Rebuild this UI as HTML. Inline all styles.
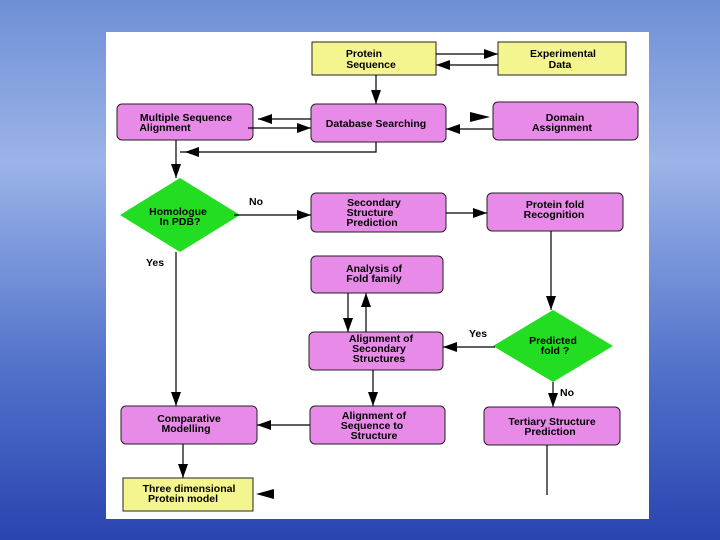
<!DOCTYPE html>
<html><head><style>
body{margin:0;width:720px;height:540px;overflow:hidden;background:linear-gradient(180deg,#6f8fd6 0%,#9bb4e8 30%,#4f6fc9 70%,#2a44b0 100%);}
svg{position:absolute;left:0;top:0}
text{font-family:"Liberation Sans",sans-serif;font-size:10.5px;font-weight:bold;fill:#000;text-anchor:middle}
</style></head><body>
<svg width="720" height="540">
<defs>
<marker id="b" viewBox="0 0 14 10" markerWidth="14" markerHeight="10" refX="14" refY="5" orient="auto" markerUnits="userSpaceOnUse"><path d="M0,0L14,5L0,10z" fill="#000"/></marker></defs>
<rect x="106" y="32" width="543" height="487" fill="#fff"/>
<g stroke="#222" stroke-width="1">
<rect x="312" y="42" width="124" height="33" fill="#f5f590"/>
<rect x="498" y="42" width="128" height="33" fill="#f5f590"/>
<rect x="117" y="104" width="136" height="36" rx="5" fill="#e88ae8"/>
<rect x="311" y="104" width="135" height="38" rx="5" fill="#e88ae8"/>
<rect x="493" y="102" width="145" height="38" rx="5" fill="#e88ae8"/>
<path d="M180,178L240,215L180,252L120,215z" fill="#22dd22" stroke="none"/>
<rect x="311" y="193" width="135" height="39" rx="5" fill="#e88ae8"/>
<rect x="487" y="193" width="136" height="38" rx="5" fill="#e88ae8"/>
<rect x="311" y="256" width="132" height="37" rx="5" fill="#e88ae8"/>
<rect x="309" y="332" width="134" height="38" rx="5" fill="#e88ae8"/>
<path d="M553,310L613,346L553,382L493,346z" fill="#22dd22" stroke="none"/>
<rect x="121" y="406" width="136" height="38" rx="5" fill="#e88ae8"/>
<rect x="310" y="406" width="135" height="38" rx="5" fill="#e88ae8"/>
<rect x="484" y="407" width="136" height="38" rx="5" fill="#e88ae8"/>
<rect x="123" y="478" width="130" height="33" fill="#f5f590"/>
</g>
<g stroke="#000" stroke-width="1.2" fill="none">
<line x1="436" y1="54" x2="498" y2="54" marker-end="url(#b)"/>
<line x1="498" y1="65" x2="436" y2="65" marker-end="url(#b)"/>
<line x1="376" y1="75" x2="376" y2="104" marker-end="url(#b)"/>
<line x1="311" y1="119" x2="258" y2="119" marker-end="url(#b)"/>
<line x1="248" y1="128" x2="311" y2="128" marker-end="url(#b)"/>
<line x1="493" y1="129" x2="446" y2="129" marker-end="url(#b)"/>
<polyline points="376,142 376,152 180,152"/>
<line x1="200" y1="152" x2="185" y2="152" marker-end="url(#b)"/>
<line x1="176" y1="140" x2="176" y2="178" marker-end="url(#b)"/>
<line x1="234" y1="215" x2="311" y2="215" marker-end="url(#b)"/>
<line x1="446" y1="213" x2="487" y2="213" marker-end="url(#b)"/>
<line x1="551" y1="231" x2="551" y2="310" marker-end="url(#b)"/>
<line x1="176" y1="252" x2="176" y2="406" marker-end="url(#b)"/>
<line x1="348" y1="293" x2="348" y2="332" marker-end="url(#b)"/>
<line x1="366" y1="332" x2="366" y2="293" marker-end="url(#b)"/>
<line x1="495" y1="347" x2="443" y2="347" marker-end="url(#b)"/>
<line x1="553" y1="382" x2="553" y2="407" marker-end="url(#b)"/>
<line x1="373" y1="370" x2="373" y2="406" marker-end="url(#b)"/>
<line x1="310" y1="425" x2="257" y2="425" marker-end="url(#b)"/>
<line x1="183" y1="444" x2="183" y2="478" marker-end="url(#b)"/>
<line x1="547" y1="445" x2="547" y2="495"/>
</g>
<path d="M470,112L490,117L470,122z" fill="#000"/>
<path d="M256,494L274,489L274,499z" fill="#000"/>
<text x="364" y="57">Protein</text><text x="371" y="68">Sequence</text>
<text x="563" y="57">Experimental</text><text x="560" y="68">Data</text>
<text x="186" y="121">Multiple Sequence</text><text x="165" y="131">Alignment</text>
<text x="376" y="127">Database Searching</text>
<text x="565" y="121">Domain</text><text x="562" y="131">Assignment</text>
<text x="178" y="215">Homologue</text><text x="180" y="225">In PDB?</text>
<text x="256" y="205">No</text><text x="155" y="266">Yes</text>
<text x="374" y="206">Secondary</text><text x="370" y="216">Structure</text><text x="372" y="226">Prediction</text>
<text x="555" y="208">Protein fold</text><text x="554" y="218">Recognition</text>
<text x="374" y="272">Analysis of</text><text x="374" y="282">Fold family</text>
<text x="381" y="342">Alignment of</text><text x="379" y="352">Secondary</text><text x="379" y="362">Structures</text>
<text x="478" y="337">Yes</text>
<text x="553" y="344">Predicted</text><text x="555" y="354">fold ?</text>
<text x="567" y="396">No</text>
<text x="189" y="422">Comparative</text><text x="186" y="432">Modelling</text>
<text x="374" y="419">Alignment of</text><text x="372" y="429">Sequence to</text><text x="374" y="439">Structure</text>
<text x="552" y="425">Tertiary Structure</text><text x="550" y="435">Prediction</text>
<text x="189" y="492">Three dimensional</text><text x="183" y="502">Protein model</text>
</svg>
</body></html>
